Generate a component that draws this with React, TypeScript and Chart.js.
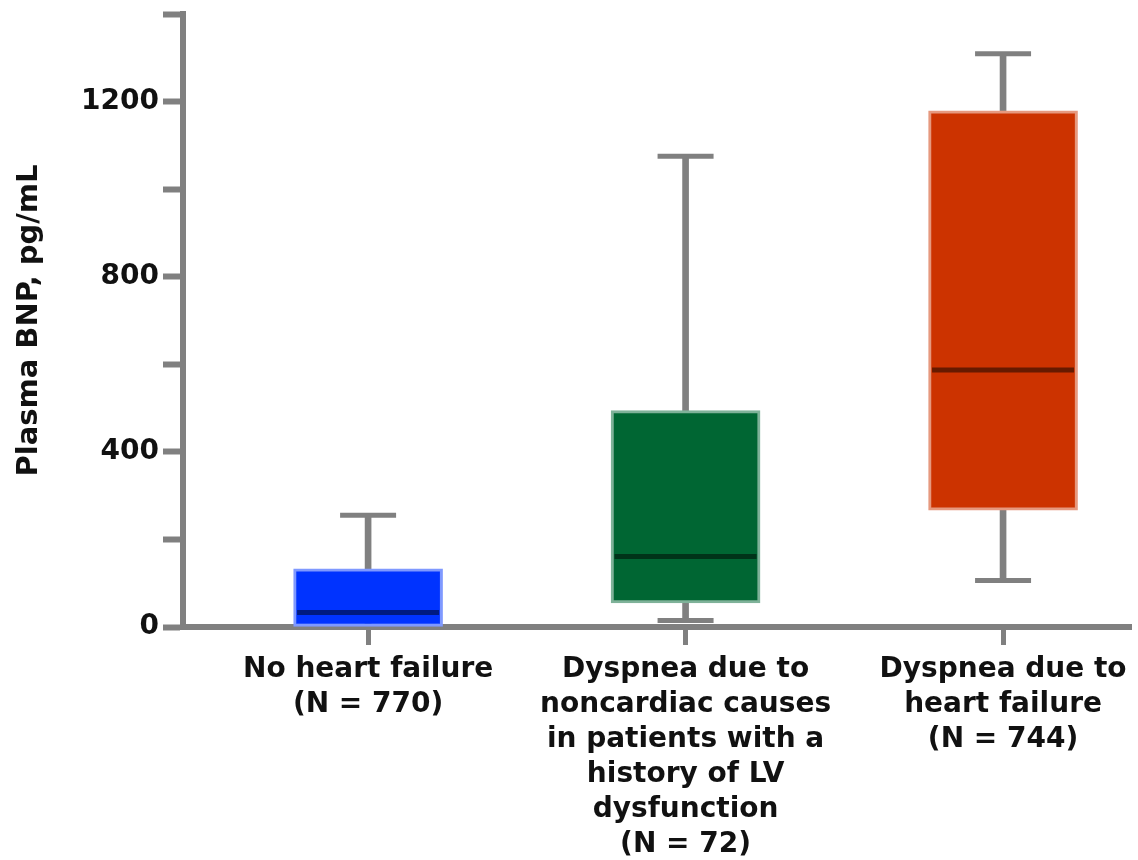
import React, { useEffect, useRef } from 'react';
import { Chart, registerables } from 'chart.js';

Chart.register(...registerables);

const categories: string[][] = [
  ['No heart failure', '(N = 770)'],
  ['Dyspnea due to', 'noncardiac causes', 'in patients with a', 'history of LV', 'dysfunction', '(N = 72)'],
  ['Dyspnea due to', 'heart failure', '(N = 744)'],
];
const whiskerLow = [0, 15, 106];
const q1 = [0, 55, 267];
const median = [33, 161, 587];
const q3 = [133, 494, 1179];
const whiskerHigh = [255, 1075, 1309];

const boxColors = ['#0033ff', '#006633', '#cc3300'];
const boxBorders = ['#7f99ff', '#7fb299', '#e6997f'];
const medianColors = ['#001a80', '#003319', '#661a00'];
const axisGray = '#808080';
const FONT = 'DejaVu Sans';

export default function App() {
  const ref = useRef<HTMLCanvasElement | null>(null);

  useEffect(() => {
    document.body.style.margin = '0';
    if (!ref.current) return;
    const xs = categories.map((_, i) => i + 1);
    const chart = new Chart(ref.current, {
      type: 'bar',
      data: {
        datasets: [
          {
            type: 'bar',
            data: xs.map((x, i) => ({ x, y: [whiskerLow[i], whiskerHigh[i]] })) as any,
            backgroundColor: axisGray,
            borderWidth: 0,
            barThickness: 6,
            grouped: false,
            order: 3,
          } as any,
          {
            type: 'bar',
            data: xs.map((x, i) => ({ x, y: [q1[i], q3[i]] })) as any,
            backgroundColor: boxColors,
            borderColor: boxBorders,
            borderWidth: 3,
            borderSkipped: false,
            barThickness: 149,
            grouped: false,
            order: 2,
          } as any,
          {
            type: 'line',
            data: xs.map((x, i) => ({ x, y: median[i] })),
            showLine: false,
            pointStyle: 'line',
            pointRadius: 71,
            pointBorderWidth: 5,
            pointBorderColor: medianColors,
            clip: false,
            order: 1,
          } as any,
          {
            type: 'line',
            data: xs.map((x, i) => ({ x, y: whiskerHigh[i] })),
            showLine: false,
            pointStyle: 'line',
            pointRadius: 28,
            pointBorderWidth: 5,
            pointBorderColor: axisGray,
            clip: false,
            order: 1,
          } as any,
          {
            type: 'line',
            data: xs.map((x, i) => ({ x, y: whiskerLow[i] < q1[i] ? whiskerLow[i] : null })),
            showLine: false,
            pointStyle: 'line',
            pointRadius: 28,
            pointBorderWidth: 5,
            pointBorderColor: axisGray,
            clip: false,
            order: 1,
          } as any,
        ],
      },
      options: {
        animation: false,
        responsive: true,
        maintainAspectRatio: false,
        devicePixelRatio: 1,
        layout: { autoPadding: false, padding: { top: 14, right: 7, bottom: 0, left: 0 } },
        plugins: { legend: { display: false }, tooltip: { enabled: false } },
        scales: {
          x: {
            type: 'linear',
            min: 0.417,
            max: 3.403,
            offset: false,
            afterBuildTicks: (s: any) => {
              s.ticks = xs.map((v) => ({ value: v }));
            },
            afterFit: (s: any) => {
              s.height = 860 - 627;
              s.paddingLeft = 0;
              s.paddingRight = 0;
            },
            ticks: {
              autoSkip: false,
              maxRotation: 0,
              padding: 7,
              color: '#111',
              font: { family: FONT, size: 28, weight: 'bold', lineHeight: 1.25 },
              callback: (v: any) => categories[Math.round(v) - 1] ?? '',
            },
            grid: {
              drawOnChartArea: false,
              offset: false,
              tickLength: 18,
              tickWidth: 5,
              tickColor: axisGray,
            },
            border: { width: 6, color: axisGray },
          } as any,
          y: {
            type: 'linear',
            min: 0,
            max: 1400,
            afterFit: (s: any) => {
              s.width = 183;
              s.paddingTop = 0;
              s.paddingBottom = 0;
            },
            ticks: {
              stepSize: 200,
              padding: 4,
              color: '#111',
              font: { family: FONT, size: 28, weight: 'bold' },
              callback: (v: any) => (Number(v) % 400 === 0 ? String(v) : ''),
            },
            grid: {
              drawOnChartArea: false,
              tickLength: 20,
              tickWidth: 6,
              tickColor: axisGray,
            },
            border: { width: 6, color: axisGray },
            title: {
              display: true,
              text: 'Plasma BNP, pg/mL',
              color: '#111',
              font: { family: FONT, size: 29, weight: 'bold' },
              padding: { top: 12, bottom: 0 },
            },
          } as any,
        },
      },
    });
    return () => chart.destroy();
  }, []);

  return (
    <div style={{ width: 1138, height: 860, position: 'relative' }}>
      <canvas ref={ref} />
    </div>
  );
}
